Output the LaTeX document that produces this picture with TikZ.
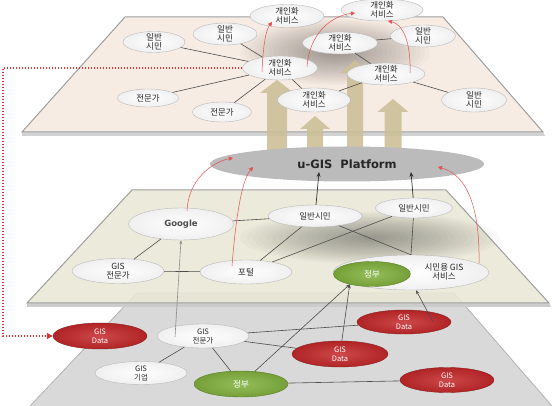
\documentclass[tikz,border=0pt]{standalone}
\usepackage{fontspec}
\newfontfamily\krfont{Noto Sans CJK KR}
\newfontfamily\uifont{DejaVu Sans}
\usetikzlibrary{shapes.geometric,arrows.meta}
\definecolor{topPlane}{HTML}{F7ECE4}
\definecolor{midPlane}{HTML}{E9E7D5}
\definecolor{lowPlane}{HTML}{D9D9D9}
\definecolor{platGray}{HTML}{BBBBBB}
\definecolor{tanArrow}{HTML}{CCBF98}
\definecolor{dataRed}{HTML}{C4282A}
\definecolor{govGreen}{HTML}{82B23E}
\definecolor{linkRed}{HTML}{E03030}
\newcommand{\uShadow}[3]{\foreach \s in {1,...,20} {\fill[black,opacity=0.02] (#1) ellipse ({#2*\s/20} and {#3*\s/20});}}
\newcommand{\uArrow}[4]{\fill[tanArrow,opacity=0.9] (#1-#2,#4) -- (#1-#2,#3+13) -- (#1-#2-7,#3+13) -- (#1,#3) -- (#1+#2+7,#3+13) -- (#1+#2,#3+13) -- (#1+#2,#4) -- cycle;}
\tikzset{
  wnode/.style={ellipse, draw=gray!55, inner color=white, outer color=gray!12, inner sep=-4pt, align=center, text=black!85, font=\krfont\fontsize{8.5}{9.5}\selectfont},
  rnode/.style={wnode, draw=dataRed!70!black, inner color=dataRed!85!white, outer color=dataRed!90!black, text=white, font=\krfont\fontsize{7.5}{9}\selectfont},
  gnode/.style={wnode, draw=govGreen!70!black, inner color=govGreen!85!white, outer color=govGreen!90!black, text=white},
  sz/.style 2 args={minimum width=#1, minimum height=#2},
  link/.style={draw=black!70, line width=0.6pt},
  uplink/.style={draw=black!45, line width=0.6pt, -{Stealth[length=4pt,width=3pt]}},
  toplat/.style={draw=black!80, line width=0.7pt, -{Stealth[length=5pt,width=4pt]}},
  redarc/.style={linkRed!85, line width=0.5pt, -{Triangle[length=4pt,width=4pt]}},
  dotlink/.style={linkRed, line width=1.5pt, dash pattern=on 1.5pt off 1.5pt, -{Triangle[length=6pt,width=6pt]}},
  plane/.style={draw=gray!75, line width=1pt}
}
\begin{document}
\begin{tikzpicture}[x=1pt,y=-1pt]
\useasboundingbox (0,0) rectangle (552,406);
\fill[lowPlane] (137,293) -- (454,293) -- (552,406) -- (30,406) -- cycle;
\draw[gray!60, line width=0.8pt] (30,406) -- (137,293) -- (454,293) -- (552,406);
\fill[gray!40] (27,303) -- (549,303) -- (551,307) -- (27,307) -- cycle;
\filldraw[plane, fill=midPlane, fill opacity=0.88] (132,190) -- (446,190) -- (549,303) -- (27,303) -- cycle;
\fill[gray!35] (22,132) -- (543,132) -- (545,136) -- (22,136) -- cycle;
\filldraw[plane, fill=topPlane] (125,17) -- (443,17) -- (543,132) -- (22,132) -- cycle;
\uShadow{335,52}{95}{33}
\uShadow{370,238}{130}{26}
\uArrow{277}{10}{80}{160}
\uArrow{315}{8}{116}{160}
\uArrow{355}{8}{60}{160}
\uArrow{393}{8.5}{99}{160}
\node[ellipse, fill=platGray, inner sep=0pt, sz={274}{35}, font=\uifont\bfseries\fontsize{11.5}{13}\selectfont, text=black!85] (plat) at (347,164) {u-GIS\ \ Platform};
\node[wnode, sz={62}{21}] (tCitizenA) at (154,42) {일반\\시민};
\node[wnode, sz={64}{22}] (tCitizenB) at (225,34) {일반\\시민};
\node[wnode, sz={61}{18}] (tExpertA) at (148,98) {전문가};
\node[wnode, sz={59}{20}] (tExpertB) at (222,112) {전문가};
\node[wnode, sz={75}{24}] (hub) at (280,68) {개인화\\서비스};
\node[wnode, sz={74}{23}] (tServA) at (287,16) {개인화\\서비스};
\node[wnode, sz={82}{22}] (tServB) at (382,10) {개인화\\서비스};
\node[wnode, sz={75}{22}] (tServC) at (340,43) {개인화\\서비스};
\node[wnode, sz={78}{22}] (tServD) at (386,74) {개인화\\서비스};
\node[wnode, sz={73}{24}] (tServE) at (314,100) {개인화\\서비스};
\node[wnode, sz={65}{22}] (tCitizenC) at (423,36) {일반\\시민};
\node[wnode, sz={65}{24}] (tCitizenD) at (474,100) {일반\\시민};
\node[wnode, sz={105}{32}, font=\uifont\bfseries\fontsize{8.5}{10}\selectfont, text=black!70] (google) at (181,224) {Google};
\node[wnode, sz={92}{25}] (mExpert) at (118,271) {GIS\\전문가};
\node[wnode, sz={92}{24}] (portal) at (246,272) {포털};
\node[wnode, sz={94}{22}] (mCitizenA) at (315,216) {일반시민};
\node[wnode, sz={77}{20}] (mCitizenB) at (414,208) {일반시민};
\node[wnode, sz={156}{35}] (msvc) at (411,272.5) {};
\node[align=center, text=black!85, font=\krfont\fontsize{8.5}{9.5}\selectfont] (msvcText) at (444,272) {시민용 GIS\\서비스};
\node[gnode, sz={77}{25}] (mGov) at (372,274) {정부};
\node[rnode, sz={94}{26}] (bData) at (100,336) {GIS\\Data};
\node[wnode, sz={92}{24}, font=\krfont\fontsize{7.5}{9}\selectfont] (bExpert) at (203,336) {GIS\\전문가};
\node[wnode, sz={92}{23}, font=\krfont\fontsize{7.5}{9}\selectfont] (bCorp) at (141,373) {GIS\\기업};
\node[gnode, sz={94}{26}] (bGov) at (241,384) {정부};
\node[rnode, sz={96}{26}] (bDataB) at (340,354) {GIS\\Data};
\node[rnode, sz={94}{24}] (bDataC) at (404,322) {GIS\\Data};
\node[rnode, sz={94}{25}] (bDataD) at (447,380) {GIS\\Data};
\coordinate (lane) at (3,200);
\draw[link] (hub) -- (tCitizenA);
\draw[link] (hub) -- (tCitizenB);
\draw[link] (hub) -- (tExpertA);
\draw[link] (hub) -- (tExpertB);
\draw[link] (hub) -- (tServE);
\draw[link] (tServE) -- (tServD);
\draw[link] (tServD) -- (tServC);
\draw[link] (tServC) -- (tCitizenC);
\draw[link] (tServD) -- (tCitizenD);
\draw[link] (google) -- (mExpert);
\draw[link] (mExpert) -- (portal);
\draw[link] (google) -- (mCitizenA);
\draw[link] (mCitizenA) -- (portal);
\draw[link] (portal) -- (mCitizenB);
\draw[link] (mCitizenA) -- (msvc.north);
\draw[link] (mCitizenB) -- (msvc.north);
\draw[toplat] (mCitizenA) -- ([shift={(-28,8)}]plat.center);
\draw[toplat] (mCitizenB) -- ([shift={(64,8)}]plat.center);
\draw[link] (bExpert) -- (bCorp);
\draw[link] (bExpert) -- (bGov);
\draw[link] (bExpert) -- (bDataC);
\draw[link] (bExpert) -- (bDataB);
\draw[link] (bGov) -- (bDataD);
\draw[link, -{Stealth[length=4pt,width=3pt]}] (bGov) -- (mGov.205);
\draw[link, -{Stealth[length=4pt,width=3pt]}] (bDataB) -- (mGov.205);
\draw[link, -{Stealth[length=4pt,width=3pt]}] ([shift={(29,0)}]bDataC.center) -- ([shift={(5,0)}]msvc.south);
\draw[uplink] ([shift={(-28,1)}]bExpert.center) -- (google.south);
\draw[redarc] ([shift={(-18,4)}]hub.center) .. controls (263,45) and (266,30) .. ([shift={(-15,6)}]tServA.center);
\draw[redarc] ([shift={(27,-1)}]hub.center) .. controls (309,35) and (330,16) .. ([shift={(-27,3)}]tServB.center);
\draw[redarc] ([shift={(24,-1)}]tServD.center) .. controls (411,40) and (402,24) .. ([shift={(6,11)}]tServB.center);
\draw[redarc] ([shift={(6,-13)}]google.center) .. controls (188,180) and (212,162) .. ([shift={(-114,-6)}]plat.center);
\draw[redarc] ([shift={(-14,-6)}]portal.center) .. controls (236,215) and (242,180) .. ([shift={(-94,3)}]plat.center);
\draw[redarc] ([shift={(68,-9)}]msvc.center) .. controls (480,210) and (468,175) .. ([shift={(91,3)}]plat.center);
\draw[dotlink] (hub.west) -- (hub.west -| lane) |- (bData.west);
\end{tikzpicture}
\end{document}
